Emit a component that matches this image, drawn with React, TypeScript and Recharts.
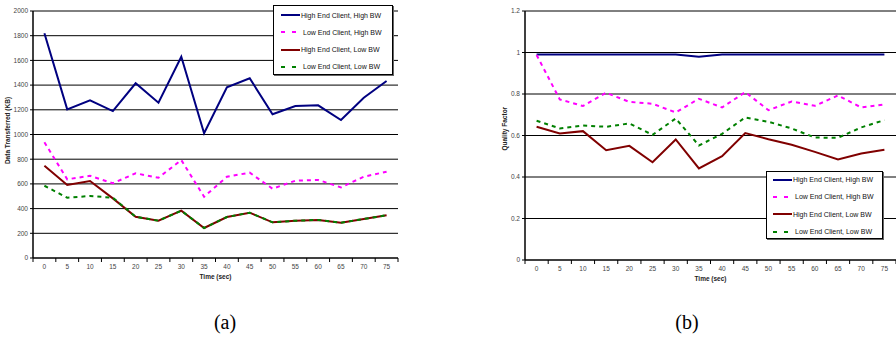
import React from "react";
import { LineChart, Line, XAxis, YAxis, CartesianGrid, Legend, Label } from "recharts";

const times = [0, 5, 10, 15, 20, 25, 30, 35, 40, 45, 50, 55, 60, 65, 70, 75];

// Chart (a): Data transferred (KB)
const dataHighHighA = [1820, 1204, 1277, 1190, 1415, 1258, 1630, 1010, 1382, 1455, 1164, 1231, 1236, 1117, 1298, 1433];
const dataLowHighA = [937, 637, 666, 605, 686, 650, 793, 496, 658, 691, 561, 626, 632, 572, 658, 699];
const dataHighLowA = [747, 591, 623, 483, 334, 302, 383, 243, 332, 367, 289, 302, 308, 286, 316, 346];
const dataLowLowA = [585, 488, 502, 488, 334, 302, 383, 243, 332, 367, 289, 302, 308, 286, 316, 346];

// Chart (b): Quality factor
const qHighHighB = [0.99, 0.99, 0.99, 0.99, 0.99, 0.99, 0.99, 0.98, 0.99, 0.99, 0.99, 0.99, 0.99, 0.99, 0.99, 0.99];
const qLowHighB = [0.988, 0.774, 0.742, 0.806, 0.762, 0.753, 0.711, 0.777, 0.735, 0.809, 0.722, 0.764, 0.743, 0.793, 0.735, 0.75];
const qHighLowB = [0.642, 0.61, 0.621, 0.529, 0.55, 0.471, 0.581, 0.441, 0.5, 0.612, 0.582, 0.555, 0.521, 0.484, 0.513, 0.531];
const qLowLowB = [0.671, 0.634, 0.648, 0.642, 0.658, 0.603, 0.682, 0.552, 0.608, 0.687, 0.666, 0.634, 0.59, 0.589, 0.639, 0.674];

const yTicksA = [0, 200, 400, 600, 800, 1000, 1200, 1400, 1600, 1800, 2000];
const yTicksB = [0, 0.2, 0.4, 0.6, 0.8, 1, 1.2];

const seriesNames = [
  "High End Client, High BW",
  "Low End Client, High BW",
  "High End Client, Low BW",
  "Low End Client, Low BW",
];
const seriesColors = ["#000080", "#FF00FF", "#800000", "#008000"];
const seriesDashed = [false, true, false, true];

const dataA = times.map((t, i) => ({
  t,
  s0: dataHighHighA[i],
  s1: dataLowHighA[i],
  s2: dataHighLowA[i],
  s3: dataLowLowA[i],
}));
const dataB = times.map((t, i) => ({
  t,
  s0: qHighHighB[i],
  s1: qLowHighB[i],
  s2: qHighLowB[i],
  s3: qLowLowB[i],
}));

const FONT = "Arial, 'Liberation Sans', sans-serif";

function makeXTick(half: number) {
  return (props: any) => {
    const { x, y, payload } = props;
    const last = payload.value === times[times.length - 1];
    return (
      <g>
        <line x1={x - half} x2={x - half} y1={y} y2={y + 4} stroke="#000" strokeWidth={1} />
        {last && <line x1={x + half} x2={x + half} y1={y} y2={y + 4} stroke="#000" strokeWidth={1} />}
        <text x={x} y={y + 11} textAnchor="middle" fontSize={6.5} fill="#444" fontFamily={FONT}>
          {payload.value}
        </text>
      </g>
    );
  };
}

function LegendBox(props: { width: number; height: number; rowTop: number; rowGap: number; sampleLeft: number }) {
  const { width, height, rowTop, rowGap, sampleLeft } = props;
  return (
    <div
      style={{
        width,
        height,
        boxSizing: "border-box",
        border: "1px solid #000",
        boxShadow: "1px 1px 0 #666",
        background: "#fff",
        position: "relative",
        fontFamily: FONT,
        fontSize: 7,
        color: "#111",
      }}
    >
      {seriesNames.map((name, i) => (
        <div
          key={name}
          style={{
            position: "absolute",
            left: sampleLeft,
            top: rowTop + i * rowGap - 5,
            height: 10,
            display: "flex",
            alignItems: "center",
            whiteSpace: "nowrap",
          }}
        >
          <svg width={19} height={10} style={{ display: "block" }}>
            <line
              x1={0}
              x2={19}
              y1={5}
              y2={5}
              stroke={seriesColors[i]}
              strokeWidth={2}
              strokeDasharray={seriesDashed[i] ? "4 7" : undefined}
            />
          </svg>
          <span style={{ marginLeft: seriesDashed[i] ? 3 : 1 }}>{name}</span>
        </div>
      ))}
    </div>
  );
}

function renderLines() {
  return [0, 1, 2, 3].map((i) => (
    <Line
      key={i}
      type="linear"
      dataKey={"s" + i}
      name={seriesNames[i]}
      stroke={seriesColors[i]}
      strokeWidth={2}
      strokeDasharray={seriesDashed[i] ? "4 4" : undefined}
      dot={false}
      activeDot={false}
      isAnimationActive={false}
    />
  ));
}

const captionStyle: React.CSSProperties = {
  position: "absolute",
  width: 80,
  top: 310,
  textAlign: "center",
  fontFamily: "'Liberation Serif', 'DejaVu Serif', serif",
  fontSize: 20,
  lineHeight: "24px",
};

export default function App() {
  const halfA = 365 / 16 / 2;
  const halfB = 371 / 16 / 2;
  return (
    <div style={{ position: "absolute", left: 0, top: 0, width: 896, height: 342, background: "#fff" }}>
      <div style={{ position: "absolute", left: 0, top: 0 }}>
        <LineChart width={400} height={290} data={dataA} margin={{ top: 11, right: 2, bottom: 0, left: 8 }}>
          <CartesianGrid horizontal={true} vertical={false} stroke="#000" strokeWidth={1} />
          <XAxis
            dataKey="t"
            type="number"
            domain={[-2.5, 77.5]}
            ticks={times}
            interval={0}
            height={32}
            tickSize={0}
            tickMargin={0}
            tickLine={false}
            axisLine={{ stroke: "#000", strokeWidth: 1 }}
            tick={makeXTick(halfA)}
          >
            <Label
              content={() => (
                <text x={215.5} y={279} textAnchor="middle" fontSize={6.5} fontWeight="bold" fill="#222" fontFamily={FONT}>
                  Time (sec)
                </text>
              )}
            />
          </XAxis>
          <YAxis
            type="number"
            domain={[0, 2000]}
            ticks={yTicksA}
            interval={0}
            width={25}
            tickSize={3}
            tickMargin={2}
            tick={{ fontSize: 6.5, fill: "#444", fontFamily: FONT }}
            axisLine={{ stroke: "#000", strokeWidth: 1.5 }}
            tickLine={{ stroke: "#000" }}
          >
            <Label
              content={() => (
                <text
                  x={9.5}
                  y={130.5}
                  transform="rotate(-90 9.5 130.5)"
                  textAnchor="middle"
                  fontSize={6.5}
                  fontWeight="bold"
                  fill="#222"
                  fontFamily={FONT}
                >
                  Data Transferred (KB)
                </text>
              )}
            />
          </YAxis>
          {renderLines()}
          <Legend
            layout="vertical"
            align="center"
            verticalAlign="middle"
            wrapperStyle={{ left: 273, top: 5, width: 120, height: 70 }}
            content={() => <LegendBox width={120} height={70} rowTop={9} rowGap={17.3} sampleLeft={7} />}
          />
        </LineChart>
      </div>
      <div style={{ position: "absolute", left: 450, top: 0 }}>
        <LineChart width={446} height={292} data={dataB} margin={{ top: 11, right: 0, bottom: 0, left: 50 }}>
          <CartesianGrid horizontal={true} vertical={false} stroke="#000" strokeWidth={1} />
          <XAxis
            dataKey="t"
            type="number"
            domain={[-2.5, 77.5]}
            ticks={times}
            interval={0}
            height={32}
            tickSize={0}
            tickMargin={0}
            tickLine={false}
            axisLine={{ stroke: "#000", strokeWidth: 1 }}
            tick={makeXTick(halfB)}
          >
            <Label
              content={() => (
                <text x={260.5} y={281} textAnchor="middle" fontSize={6.5} fontWeight="bold" fill="#222" fontFamily={FONT}>
                  Time (sec)
                </text>
              )}
            />
          </XAxis>
          <YAxis
            type="number"
            domain={[0, 1.2]}
            ticks={yTicksB}
            interval={0}
            width={25}
            tickSize={3}
            tickMargin={2}
            tick={{ fontSize: 6.5, fill: "#444", fontFamily: FONT }}
            axisLine={{ stroke: "#000", strokeWidth: 1.5 }}
            tickLine={{ stroke: "#000" }}
          >
            <Label
              content={() => (
                <text
                  x={57.5}
                  y={128.7}
                  transform="rotate(-90 57.5 128.7)"
                  textAnchor="middle"
                  fontSize={6.5}
                  fontWeight="bold"
                  fill="#222"
                  fontFamily={FONT}
                >
                  Quality Factor
                </text>
              )}
            />
          </YAxis>
          {renderLines()}
          <Legend
            layout="vertical"
            align="center"
            verticalAlign="middle"
            wrapperStyle={{ left: 316, top: 171, width: 117, height: 68 }}
            content={() => <LegendBox width={117} height={68} rowTop={7.5} rowGap={17.4} sampleLeft={6} />}
          />
        </LineChart>
      </div>
      <div style={{ ...captionStyle, left: 185 }}>(a)</div>
      <div style={{ ...captionStyle, left: 647 }}>(b)</div>
    </div>
  );
}
